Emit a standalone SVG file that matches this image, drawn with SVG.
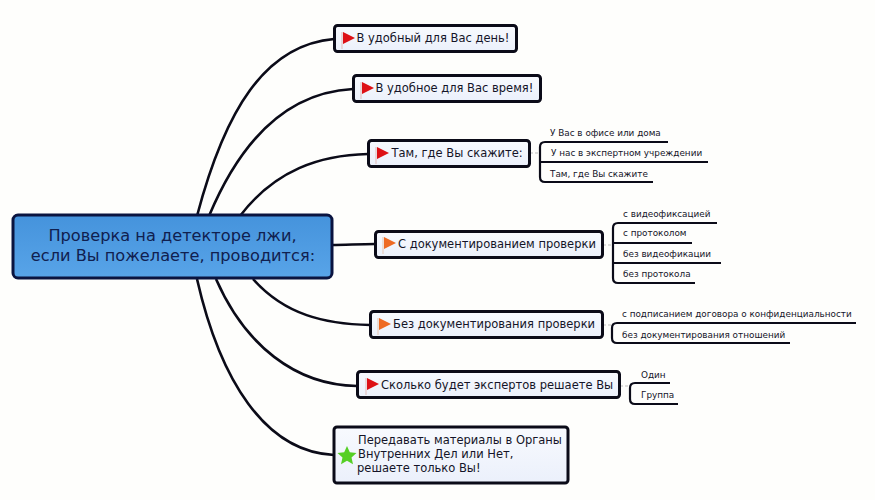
<svg xmlns="http://www.w3.org/2000/svg" width="875" height="500" viewBox="0 0 875 500">
<defs>
<linearGradient id="blue" x1="0" y1="0" x2="0" y2="1"><stop offset="0" stop-color="#4593dc"/><stop offset="1" stop-color="#58a4e8"/></linearGradient>
<linearGradient id="pale" x1="0" y1="0" x2="0" y2="1"><stop offset="0" stop-color="#f8fafe"/><stop offset="1" stop-color="#ebf0fb"/></linearGradient>
<g id="red"><path d="M1 1V18" stroke="#e3c4c4" stroke-width="1.200" fill="none"/><path d="M2 1L14 7L2 13Z" fill="#dd1016"/></g>
<g id="orange"><path d="M1 1V18" stroke="#e8cdbf" stroke-width="1.200" fill="none"/><path d="M2 1L14 7L2 13Z" fill="#ee6a24"/></g>
</defs>
<style>
text{font-family:"DejaVu Sans","Liberation Sans",sans-serif;fill:#141428}
.m{font-size:16.2px;fill:#10204f}
.t{font-size:11.5px}
.s{font-size:8.85px}
.box{fill:url(#pale);stroke:#0b0b18;stroke-width:3}
.c{fill:none;stroke:#0b0b18;stroke-width:2.600}
.u{fill:none;stroke:#0b0b18;stroke-width:2.200}
.d{fill:none;stroke:#bdbdbd;stroke-width:1;stroke-dasharray:3 2}
</style>
<rect width="875" height="500" fill="#fefefc"/>
<g id="connectors">
<path class="c" d="M197 216C225 110 265 45 334 39"/>
<path class="c" d="M209 216C245 130 295 92 353 89"/>
<path class="c" d="M240 216C275 170 320 155 368 154"/>
<path class="c" d="M332 245C345 245 360 244 375 244"/>
<path class="c" d="M253 279C285 315 325 324 370 325"/>
<path class="c" d="M216 279C245 345 295 385 357 386"/>
<path class="c" d="M197 279C220 380 265 452 334 455"/>
<path class="d" d="M530 153H540M603 245H613M603 325H612M620 386H630"/>
<path class="u" d="M668 142H545Q540 142 540 147V177Q540 182 545 182H653M540 162H708"/>
<path class="u" d="M717 223H618Q613 223 613 228V278Q613 283 618 283H695M613 243H692M613 263H721"/>
<path class="u" d="M856 323H617Q612 323 612 328V338Q612 343 617 343H790"/>
<path class="u" d="M670 383H635Q630 383 630 388V399Q630 404 635 404H678"/>
</g>
<g id="root"><rect x="13" y="215" width="319" height="63" rx="5" fill="url(#blue)" stroke="#0a1440" stroke-width="3"/>
<text class="m" x="172.500" y="241" text-anchor="middle">Проверка на детекторе лжи,</text>
<text class="m" x="173" y="261" text-anchor="middle">если Вы пожелаете, проводится:</text></g>
<g id="n1"><rect class="box" x="334.500" y="25.500" width="182" height="26" rx="3"/><use href="#red" x="341" y="31"/><text class="t" x="356.500" y="42">В удобный для Вас день!</text></g>
<g id="n2"><rect class="box" x="353.500" y="75.500" width="187" height="26" rx="3"/><use href="#red" x="360" y="81"/><text class="t" x="375.500" y="92">В удобное для Вас время!</text></g>
<g id="n3"><rect class="box" x="368.500" y="140.500" width="161" height="26" rx="3"/><use href="#red" x="375" y="146"/><text class="t" x="391.500" y="157">Там, где Вы скажите:</text></g>
<g id="n4"><rect class="box" x="375.500" y="231.500" width="227" height="26" rx="3"/><use href="#orange" x="382" y="236"/><text class="t" x="398" y="248">С документированием проверки</text></g>
<g id="n5"><rect class="box" x="370.500" y="311.500" width="232" height="26" rx="3"/><use href="#orange" x="377" y="317"/><text class="t" x="393" y="328">Без документирования проверки</text></g>
<g id="n6"><rect class="box" x="357.500" y="371.500" width="262" height="26" rx="3"/><use href="#red" x="365" y="377"/><text class="t" x="381" y="389">Сколько будет экспертов решаете Вы</text></g>
<g id="n7"><rect class="box" x="334" y="427" width="234" height="56" rx="3"/><path d="M347 446L349.800 452.200L356.500 453L351.500 457.500L353 464.200L347 460.800L341 464.200L342.500 457.500L337.500 453L344.200 452.200Z" fill="#55cf25"/>
<text class="t" x="358" y="444">Передавать материалы в Органы</text><text class="t" x="358" y="458">Внутренних Дел или Нет,</text><text class="t" x="357" y="472">решаете только Вы!</text></g>
<g id="s3a"><text class="s" x="550" y="136">У Вас в офисе или дома</text></g>
<g id="s3b"><text class="s" x="551" y="156">У нас в экспертном учреждении</text></g>
<g id="s3c"><text class="s" x="550" y="177">Там, где Вы скажите</text></g>
<g id="s4a"><text class="s" x="623" y="217">с видеофиксацией</text></g>
<g id="s4b"><text class="s" x="623" y="236">с протоколом</text></g>
<g id="s4c"><text class="s" x="623" y="257">без видеофикации</text></g>
<g id="s4d"><text class="s" x="623" y="277">без протокола</text></g>
<g id="s5a"><text class="s" x="622" y="317">с подписанием договора о конфиденциальности</text></g>
<g id="s5b"><text class="s" x="622" y="338">без документирования отношений</text></g>
<g id="s6a"><text class="s" x="641" y="378">Один</text></g>
<g id="s6b"><text class="s" x="641" y="398">Группа</text></g>
</svg>
